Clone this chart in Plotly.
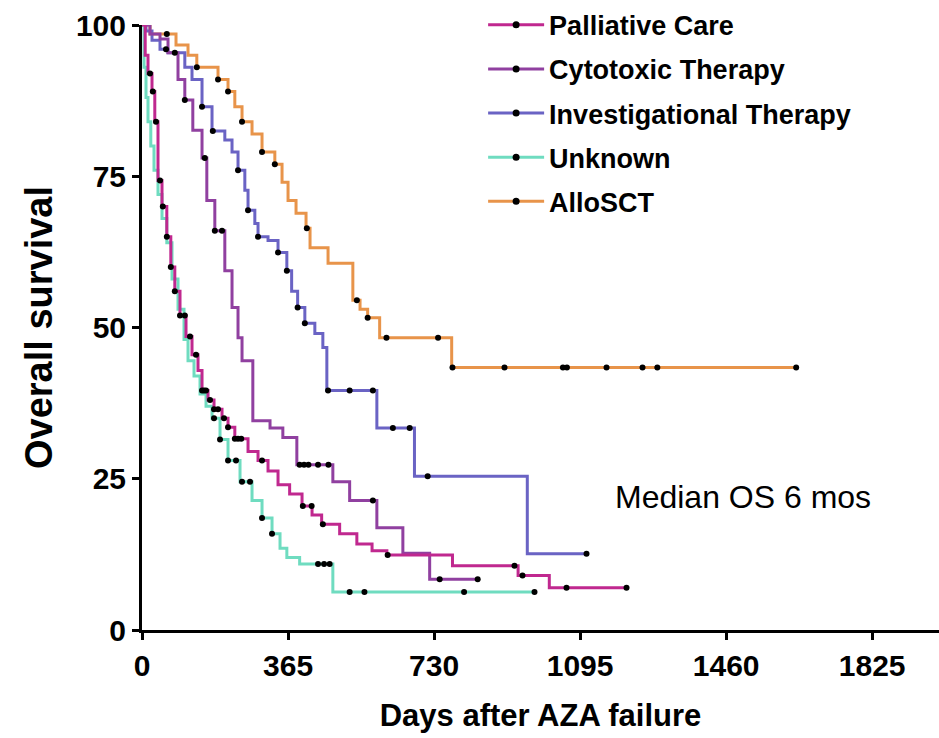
import plotly.graph_objects as go

# ---------------- data ----------------
groups = ["Palliative Care", "Cytotoxic Therapy", "Investigational Therapy", "Unknown", "AlloSCT"]
colors = {"Palliative Care": "#c0288f", "Cytotoxic Therapy": "#9040a0",
          "Investigational Therapy": "#6a63c4", "Unknown": "#6fdcc0", "AlloSCT": "#e8944a"}

# Kaplan-Meier step times (days) and survival (%) after each step
pal_t = [0, 8, 15, 25, 32, 40, 50, 62, 72, 82, 95, 110, 125, 140, 150, 165, 180, 200, 215, 232, 265, 290, 315, 340, 369, 400, 425, 449, 494, 537, 575, 612, 776, 940, 1018]
pal_s = [100, 95, 92, 89, 84, 74.3, 70, 65, 60, 56, 52, 48.5, 45.5, 42.9, 39.6, 38, 36.5, 35, 33.5, 31.6, 29.5, 28, 26.3, 24, 22.5, 20.5, 19, 17.5, 15.9, 14.2, 13.1, 12.4, 10.6, 9, 7.0]
pal_c = [20, 27, 35, 45, 52, 62, 72, 82, 95, 107, 120, 135, 150, 155, 160, 170, 180, 190, 205, 215, 232, 240, 248, 300, 402, 424, 452, 614, 931, 951, 1061, 1211]

cyt_t = [0, 20, 45, 65, 90, 107, 127, 150, 162, 182, 207, 225, 240, 250, 277, 320, 352, 387, 477, 519, 587, 652, 719]
cyt_s = [100, 98.5, 97.7, 95.4, 91, 87.6, 82.6, 78, 71, 66, 59.4, 53.3, 48.3, 44.5, 34.6, 33.4, 31.8, 27.3, 24.5, 21.4, 16.9, 12.7, 8.4]
cyt_c = [82, 107, 157, 182, 200, 394, 405, 416, 440, 466, 577, 744, 839]

inv_t = [0, 10, 25, 45, 65, 107, 125, 150, 175, 207, 225, 240, 257, 265, 282, 290, 315, 340, 362, 374, 389, 407, 432, 452, 462, 587, 681, 963]
inv_s = [100, 99, 97.5, 96, 95.4, 93, 91, 86.5, 82.5, 81, 79, 76, 72.7, 69.4, 67.2, 65, 64.4, 62.4, 59.4, 56, 53.3, 50.7, 49, 46.7, 39.6, 33.4, 25.4, 12.6]
inv_c = [60, 150, 177, 240, 265, 290, 340, 362, 389, 407, 465, 519, 577, 627, 669, 714, 1111]

unk_t = [0, 5, 10, 15, 22, 30, 40, 50, 62, 75, 90, 105, 115, 130, 145, 160, 175, 195, 215, 245, 275, 300, 325, 345, 362, 394, 477]
unk_s = [100, 93, 88, 84, 80, 76, 72, 68, 64, 58, 53, 48, 44.5, 42, 39, 37, 35, 31.5, 28, 24.5, 21.4, 18.5, 15.9, 13.5, 12, 10.9, 6.3]
unk_c = [180, 195, 215, 235, 250, 270, 300, 325, 440, 455, 469, 519, 556, 805, 981]

allo_t = [0, 20, 85, 115, 137, 190, 215, 232, 250, 275, 300, 332, 350, 365, 385, 410, 420, 465, 527, 545, 564, 594, 774]
allo_s = [100, 98.5, 96.7, 95, 93, 91, 89, 86.5, 84, 82, 79, 77, 74, 71, 68.9, 66.4, 63.2, 60.6, 54.5, 53, 51.6, 48.3, 43.4]
allo_c = [62, 137, 190, 215, 250, 300, 332, 412, 537, 564, 611, 740, 776, 906, 1052, 1062, 1161, 1251, 1288, 1635]

x_ticks = [0, 365, 730, 1095, 1460, 1825]
y_ticks = [0, 25, 50, 75, 100]

series = {
    "Palliative Care": (pal_t, pal_s, pal_c),
    "Cytotoxic Therapy": (cyt_t, cyt_s, cyt_c),
    "Investigational Therapy": (inv_t, inv_s, inv_c),
    "Unknown": (unk_t, unk_s, unk_c),
    "AlloSCT": (allo_t, allo_s, allo_c),
}


def surv_at(t, s, c):
    v = s[0]
    for ti, si in zip(t, s):
        if ti <= c:
            v = si
    return v


fig = go.Figure()
draw_order = ["AlloSCT", "Investigational Therapy", "Cytotoxic Therapy", "Unknown", "Palliative Care"]
for g in draw_order:
    t, s, c = series[g]
    end = max(c[-1], t[-1])
    fig.add_trace(go.Scatter(x=list(t) + [end], y=list(s) + [s[-1]], mode="lines",
                             line=dict(color=colors[g], width=3, shape="hv"),
                             showlegend=False, cliponaxis=False, hoverinfo="skip"))
for g in draw_order:
    t, s, c = series[g]
    fig.add_trace(go.Scatter(x=c, y=[surv_at(t, s, ci) for ci in c], mode="markers",
                             marker=dict(color="black", size=6, symbol="circle"),
                             showlegend=False, cliponaxis=False, hoverinfo="skip"))
# legend entries
for i, g in enumerate(groups):
    fig.add_trace(go.Scatter(x=[None], y=[None], mode="lines+markers", name=g,
                             legendgroup=g,
                             line=dict(color=colors[g], width=3),
                             marker=dict(color="black", size=7)))

font_family = "Liberation Sans, Arial, sans-serif"
fig.update_layout(
    width=939, height=738,
    margin=dict(l=142, r=0, t=25, b=108),
    paper_bgcolor="white", plot_bgcolor="white",
    font=dict(family=font_family, color="black"),
    showlegend=True,
    legend=dict(x=0.428, y=1.04, xanchor="left", yanchor="top",
                font=dict(size=27, family=font_family, weight="bold", color="black"),
                itemwidth=56, tracegroupgap=6, bgcolor="rgba(0,0,0,0)"),
    xaxis=dict(range=[0, 1992], tickvals=x_ticks, showgrid=False, zeroline=False,
               showline=True, linecolor="black", linewidth=3,
               ticks="outside", ticklen=7, tickwidth=2.5, tickcolor="black",
               tickfont=dict(size=30, family=font_family, weight="bold"),
               title=dict(text="Days after AZA failure", standoff=24,
                          font=dict(size=31, family=font_family, weight="bold"))),
    yaxis=dict(range=[0, 100], tickvals=y_ticks, showgrid=False, zeroline=False,
               showline=True, linecolor="black", linewidth=3,
               ticks="outside", ticklen=7, tickwidth=2.5, tickcolor="black",
               tickfont=dict(size=30, family=font_family, weight="bold"),
               title=dict(text="Overall survival", standoff=12,
                          font=dict(size=38, family=font_family, weight="bold"))),
    annotations=[dict(text="Median OS 6 mos", xref="paper", yref="paper",
                      x=0.591, y=0.22, xanchor="left", yanchor="middle", showarrow=False,
                      font=dict(size=32, family=font_family, color="black"))],
)

fig.write_html("out.html")
